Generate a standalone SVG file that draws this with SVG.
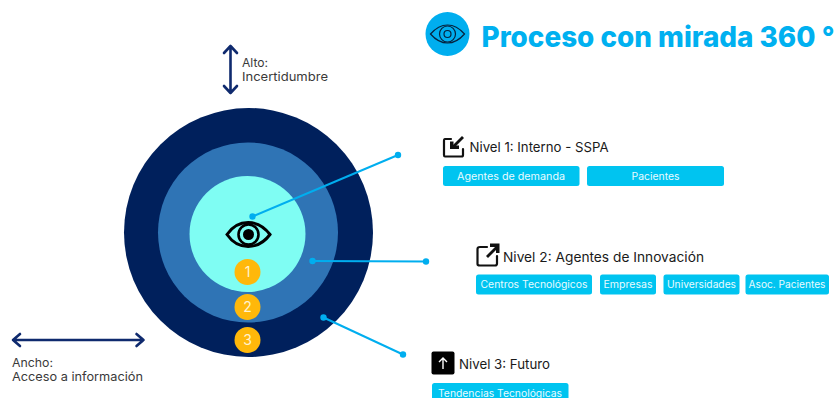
<svg xmlns="http://www.w3.org/2000/svg" width="838" height="398" viewBox="0 0 838 398">
<style>
text{font-family:"Inter","Liberation Sans",sans-serif}
.h{font-size:13.500px;fill:#1a1a1a}
.l{font-size:12px;fill:#3a3a3a}
.p{font-size:10px;fill:#e8fbff;text-anchor:middle}
.b{fill:#00c4f0}
.n{font-size:14px;fill:#fff3cf;text-anchor:middle}
.c{fill:#ffb80a}
.a{fill:none;stroke:#0f2a6e;stroke-width:2.600;stroke-linecap:round;stroke-linejoin:round}
.k{fill:none;stroke:#111;stroke-width:2.200;stroke-linecap:round;stroke-linejoin:round}
.w{stroke:#00aeef;stroke-width:2;fill:none}
.d{fill:#00aeef}
</style>
<g id="rings">
<circle cx="248.500" cy="232.500" r="124.500" fill="#00205c"/>
<circle cx="248" cy="232.500" r="90" fill="#2f74b5"/>
<circle cx="247.500" cy="234" r="58" fill="#7ffdf3"/>
</g>
<g id="eye-center">
<path d="M227 234.500C238 218.500 258 218.500 270 234.500C258 250.500 238 250.500 227 234.500Z" fill="none" stroke="#000" stroke-width="3"/>
<circle cx="248.500" cy="234.500" r="10" fill="none" stroke="#000" stroke-width="2.600"/>
<circle cx="248.500" cy="234.500" r="5.500" fill="#000"/>
</g>
<g id="connectors">
<line class="w" x1="252.500" y1="216.500" x2="398" y2="155"/><circle class="d" cx="252.500" cy="216.500" r="3.200"/><circle class="d" cx="398" cy="155" r="3.200"/>
<line class="w" x1="312.500" y1="261" x2="426" y2="261.500"/><circle class="d" cx="312.500" cy="261" r="3.200"/><circle class="d" cx="426" cy="261.500" r="3.200"/>
<line class="w" x1="323.500" y1="317.500" x2="403" y2="354.500"/><circle class="d" cx="323.500" cy="317.500" r="3.200"/><circle class="d" cx="403" cy="354.500" r="3.200"/>
</g>
<g id="num-1"><circle class="c" cx="247.500" cy="272" r="13"/><text class="n" x="247.500" y="277">1</text></g>
<g id="num-2"><circle class="c" cx="247.500" cy="307" r="13"/><text class="n" x="247.500" y="312">2</text></g>
<g id="num-3"><circle class="c" cx="247.500" cy="340" r="13"/><text class="n" x="247.500" y="345">3</text></g>
<g id="axis-alto">
<path class="a" d="M230.500 46V93M224 53L230.500 46L237 53M224 86L230.500 93L237 86"/>
<text class="l" x="242" y="66.500" textLength="26" lengthAdjust="spacingAndGlyphs">Alto:</text>
<text class="l" x="242" y="80.500" textLength="86" lengthAdjust="spacingAndGlyphs">Incertidumbre</text>
</g>
<g id="axis-ancho">
<path class="a" d="M13 340H143.500M20 334L13 340L20 346M136.500 334L143.500 340L136.500 346"/>
<text class="l" x="12" y="367" textLength="41" lengthAdjust="spacingAndGlyphs">Ancho:</text>
<text class="l" x="12" y="381" textLength="131" lengthAdjust="spacingAndGlyphs">Acceso a información</text>
</g>
<g id="title">
<circle cx="447.500" cy="34" r="22" fill="#00aeef"/>
<path d="M430.500 34C441 22 454 22 464.500 34C454 46 441 46 430.500 34Z" fill="none" stroke="#06233f" stroke-width="1.200"/>
<circle cx="447.500" cy="34" r="8" fill="none" stroke="#06233f" stroke-width="1.200"/>
<circle cx="447.500" cy="34" r="3.500" fill="none" stroke="#06233f" stroke-width="1.200"/>
<text x="481.500" y="47" font-size="28" font-weight="800" fill="#00b0f0" textLength="353" lengthAdjust="spacingAndGlyphs">Proceso con mirada 360 °</text>
</g>
<g id="nivel-1">
<path class="k" d="M451 139H445C444 139 444 140 444 141V155C444 156 444 156.500 445 156.500H461.500C462.500 156.500 463 156 463 155V149"/>
<path fill="none" stroke="#111" stroke-width="2.800" d="M463 137L453 147"/>
<path fill="#111" d="M450 141.500L453.500 141.500L453.500 145.500L459 145.500L459 149L450 149Z"/>
<text class="h" x="469.500" y="152" textLength="139" lengthAdjust="spacingAndGlyphs">Nivel 1: Interno - SSPA</text>
<rect class="b" x="443" y="166" width="136.500" height="20" rx="2.500"/><text class="p" x="511" y="179.500" textLength="108" lengthAdjust="spacingAndGlyphs">Agentes de demanda</text>
<rect class="b" x="587" y="166" width="137" height="20" rx="2.500"/><text class="p" x="655.500" y="179.500" textLength="48" lengthAdjust="spacingAndGlyphs">Pacientes</text>
</g>
<g id="nivel-2">
<path class="k" d="M487 247H480C478 247 477.500 248 477.500 249V264C477.500 265 478 265.500 480 265.500H495C496.500 265.500 497 265 497 263.500V256"/>
<path fill="none" stroke="#111" stroke-width="2.800" d="M487 257L497 247"/>
<path fill="#111" d="M490 243.500H499.500V253L496 253V247H490Z"/>
<text class="h" x="503" y="261.500" textLength="201" lengthAdjust="spacingAndGlyphs">Nivel 2: Agentes de Innovación</text>
<rect class="b" x="476" y="274.500" width="116" height="20" rx="2.500"/><text class="p" x="534" y="288" textLength="107" lengthAdjust="spacingAndGlyphs">Centros Tecnológicos</text>
<rect class="b" x="600" y="274.500" width="56" height="20" rx="2.500"/><text class="p" x="628" y="288" textLength="49" lengthAdjust="spacingAndGlyphs">Empresas</text>
<rect class="b" x="663.500" y="274.500" width="76" height="20" rx="2.500"/><text class="p" x="701.500" y="288" textLength="69" lengthAdjust="spacingAndGlyphs">Universidades</text>
<rect class="b" x="745.500" y="274.500" width="83.500" height="20" rx="2.500"/><text class="p" x="787" y="288" textLength="77" lengthAdjust="spacingAndGlyphs">Asoc. Pacientes</text>
</g>
<g id="nivel-3">
<rect x="431.500" y="351.500" width="23" height="23" rx="2" fill="#000"/>
<path d="M443 369V358M439 362L443 358L447 362" fill="none" stroke="#fff" stroke-width="1.400"/>
<text class="h" x="459" y="369" textLength="91" lengthAdjust="spacingAndGlyphs">Nivel 3: Futuro</text>
<rect class="b" x="432" y="383" width="136.500" height="20" rx="2.500"/><text class="p" x="500" y="396.500" textLength="124" lengthAdjust="spacingAndGlyphs">Tendencias Tecnológicas</text>
</g>
</svg>
